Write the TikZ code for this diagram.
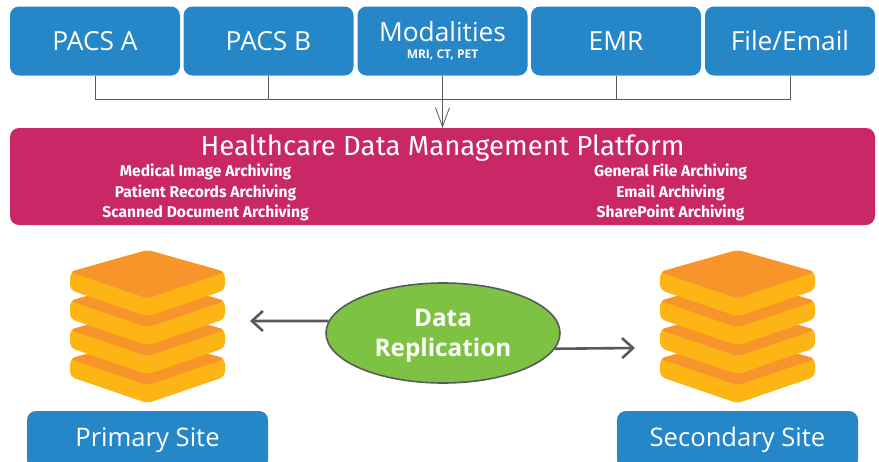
\documentclass[tikz,border=0pt]{standalone}
\usepackage{fontspec}
\setmainfont{Open Sans}
\newfontfamily\dinfont{Fira Sans}
\usetikzlibrary{positioning,shapes.geometric,arrows.meta}
\definecolor{boxblue}{HTML}{2586C8}
\definecolor{platred}{HTML}{C92766}
\definecolor{diskorange}{HTML}{F7952B}
\definecolor{diskyellow}{HTML}{FDB515}
\definecolor{ellgreen}{HTML}{7DC242}
\definecolor{linegrey}{HTML}{58595B}
\tikzset{
  srcbox/.style={rectangle,rounded corners=9pt,fill=boxblue,text=white,minimum width=170pt,minimum height=69pt,inner sep=0pt,align=center,font=\fontsize{26.3}{27}\selectfont},
  sitebox/.style={srcbox,minimum width=241pt,minimum height=58pt,font=\fontsize{25.6}{27}\selectfont},
  archtext/.style={text=white,align=center,inner sep=0pt,font=\dinfont\fontsize{15.6}{20.5}\selectfont\bfseries},
  flowline/.style={linegrey,line width=0.8pt},
  repline/.style={linegrey,line width=2.6pt,-{Straight Barb[length=11pt,width=20pt,line width=2.6pt]}},
  pics/diskstack/.style={code={
    \foreach \k in {3,2,1,0}{
      \fill[diskyellow,rounded corners=5pt] (0,{\k*28.9-1}) -- (77.5,{\k*28.9+21}) -- (77.5,{\k*28.9+39}) -- (0,{\k*28.9+65.5}) -- (-77.5,{\k*28.9+39}) -- (-77.5,{\k*28.9+21}) -- cycle;
      \fill[diskorange,rounded corners=5pt] (0,{\k*28.9-1}) -- (78,{\k*28.9+21}) -- (0,{\k*28.9+47.5}) -- (-78,{\k*28.9+21}) -- cycle;
    }
  }}
}
\begin{document}
\begin{tikzpicture}[x=1pt,y=-1pt]
  \clip (0,0) rectangle (879,461);
  %sources
  \node[srcbox] (pacsa) at (95,41) {PACS A};
  \node[srcbox] (pacsb) at (268.5,41) {PACS B};
  \node[srcbox] (modal) at (442.5,41) {Modalities\\[-9.5pt]{\fontsize{12}{12}\selectfont\bfseries MRI, CT, PET}};
  \node[srcbox] (emr) at (616,41) {EMR};
  \node[srcbox] (file) at (790,41) {File/Email};
  %platform
  \node[rectangle,rounded corners=9pt,fill=platred,minimum width=865pt,minimum height=97pt] (plat) at (442.5,176.5) {};
  \node[text=white,inner sep=0pt,font=\dinfont\fontsize{27.6}{30}\selectfont] (title) at (442.5,148) {Healthcare Data Management Platform};
  \node[archtext] (archl) at (205.5,192.5) {Medical Image Archiving\\Patient Records Archiving\\Scanned Document Archiving};
  \node[archtext] (archr) at (670.5,192.5) {General File Archiving\\Email Archiving\\SharePoint Archiving};
  %lines to platform
  \coordinate (busl) at (95,99);
  \draw[flowline] (pacsa.south) -- (busl) -- (busl -| file.south) -- (file.south);
  \draw[flowline] (pacsb.south) -- (pacsb.south |- busl);
  \draw[flowline] (emr.south) -- (emr.south |- busl);
  \draw[flowline,-{Straight Barb[length=19pt,width=14pt,line width=0.8pt]}] (modal.south) -- (modal.south |- plat.north);
  %sites
  \pic (stackl) at (147.5,251) {diskstack};
  \pic (stackr) at (737.5,251) {diskstack};
  \node[sitebox] (primary) at (147.5,440) {Primary Site};
  \node[sitebox] (secondary) at (737.5,440) {Secondary Site};
  %replication
  \node[ellipse,draw=linegrey,line width=1.6pt,fill=ellgreen,minimum width=234pt,minimum height=100pt,inner sep=0pt] (repl) at (443,333) {};
  \node[text=white,align=center,inner sep=0pt,font=\fontsize{24.3}{30}\selectfont\bfseries] (repltext) at (443,335.5) {Data\\Replication};
  \coordinate (arrl) at (250,321);
  \coordinate (arrr) at (635,348);
  \draw[repline] (repl.174) -- (arrl);
  \draw[repline] (repl.-8.4) -- (arrr);
\end{tikzpicture}
\end{document}
